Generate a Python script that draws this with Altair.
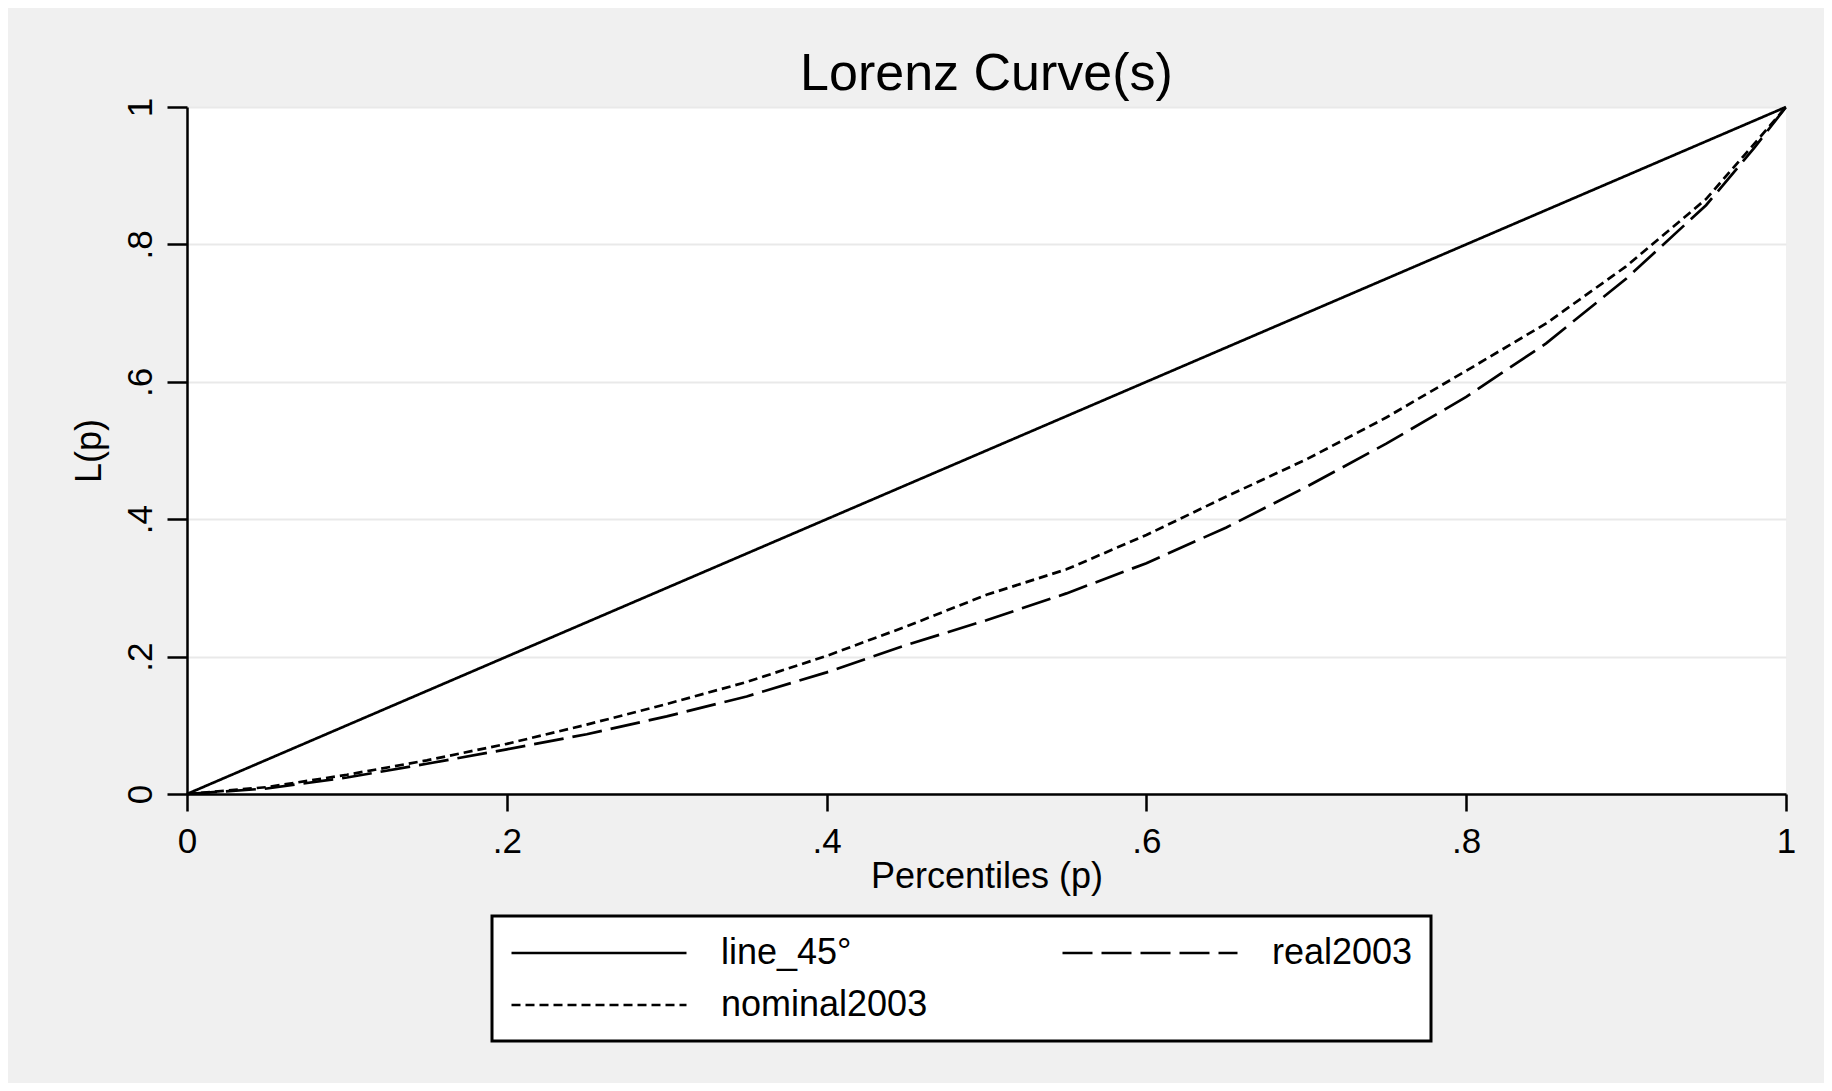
import altair as alt
import pandas as pd

# ---- data ----
p_vals = [0.0, 0.05, 0.10, 0.15, 0.20, 0.25, 0.30, 0.35, 0.40, 0.45, 0.50,
          0.55, 0.60, 0.65, 0.70, 0.75, 0.80, 0.85, 0.90, 0.95, 0.98, 1.0]
line_45 = [0.0, 0.05, 0.10, 0.15, 0.20, 0.25, 0.30, 0.35, 0.40, 0.45, 0.50,
           0.55, 0.60, 0.65, 0.70, 0.75, 0.80, 0.85, 0.90, 0.95, 0.98, 1.0]
nominal2003 = [0.0, 0.010, 0.028, 0.049, 0.073, 0.101, 0.131, 0.163, 0.201, 0.244, 0.290,
               0.327, 0.377, 0.433, 0.487, 0.548, 0.616, 0.685, 0.768, 0.866, 0.946, 1.0]
real2003 = [0.0, 0.008, 0.024, 0.044, 0.065, 0.087, 0.113, 0.142, 0.177, 0.217, 0.253,
            0.292, 0.336, 0.388, 0.447, 0.510, 0.578, 0.656, 0.750, 0.857, 0.940, 1.0]

series_names = ["line_45°", "real2003", "nominal2003"]
series_dash = [[1, 0], [30, 9], [9, 5]]

tick_values = [0, 0.2, 0.4, 0.6, 0.8, 1]
tick_labels = ["0", ".2", ".4", ".6", ".8", "1"]

title_text = "Lorenz Curve(s)"
x_title = "Percentiles (p)"
y_title = "L(p)"

rows = []
for name, vals in zip(series_names, [line_45, real2003, nominal2003]):
    for p, v in zip(p_vals, vals):
        rows.append({"series": name, "p": p, "L": v})
df = pd.DataFrame(rows)


def label_expr(values, labels):
    expr = "''"
    for v, l in reversed(list(zip(values, labels))):
        expr = f"abs(datum.value - {v}) < 1e-6 ? '{l}' : ({expr})"
    return expr


FONT = "Liberation Sans"
W, H = 1599, 687

chart = alt.Chart(df).mark_line(
    color="black", strokeWidth=2.7, strokeCap="butt", clip=False
).encode(
    x=alt.X("p:Q",
            scale=alt.Scale(domain=[0, 1], nice=False, zero=False),
            axis=alt.Axis(values=tick_values, labelExpr=label_expr(tick_values, tick_labels),
                          grid=False, tickSize=17, labelPadding=13, labelFlush=False,
                          title=x_title, titleX=W / 2, titleY=93,
                          titleBaseline="alphabetic", titleAlign="center")),
    y=alt.Y("L:Q",
            scale=alt.Scale(domain=[0, 1], nice=False, zero=False),
            axis=alt.Axis(values=tick_values, labelExpr=label_expr(tick_values, tick_labels),
                          grid=True, tickSize=20, labelPadding=9, labelFlush=False,
                          labelAngle=270, labelAlign="center", labelBaseline="bottom",
                          title=y_title, titleAngle=270, titleX=-87, titleY=H / 2,
                          titleBaseline="alphabetic", titleAlign="center")),
    strokeDash=alt.StrokeDash(
        "series:N",
        scale=alt.Scale(domain=series_names, range=series_dash),
        sort=series_names,
        legend=alt.Legend(
            title=None, orient="none", legendX=305, legendY=809,
            direction="horizontal", gridAlign="all",
            columns=2, columnPadding=129, rowPadding=15, padding=18,
            strokeColor="black", fillColor="white",
            symbolType="M-1,0H9", symbolSize=1225, symbolStrokeWidth=2.7,
            symbolStrokeColor="black", symbolOffset=0,
            labelFont=FONT, labelFontSize=36, labelColor="black",
            labelOffset=173, labelLimit=800,
        ),
    ),
).properties(
    width=W, height=H,
    title=alt.Title(title_text, font=FONT, fontSize=52, fontWeight="normal",
                    color="black", anchor="middle", frame="group",
                    baseline="alphabetic", offset=6, dy=51),
    padding={"left": 179, "top": 99, "right": 38, "bottom": 289},
    autosize=alt.AutoSizeParams(type="none"),
).configure(
    background="#f0f0f0", font=FONT,
).configure_view(
    fill="white", stroke=None,
).configure_axis(
    domainColor="black", domainWidth=2.5, tickColor="black", tickWidth=2.5,
    gridColor="#e9e9e9", gridWidth=2,
    labelFont=FONT, labelFontSize=35, labelColor="black",
    titleFont=FONT, titleFontSize=36, titleColor="black", titleFontWeight="normal",
).configure_legend(
    strokeWidth=3,
)

chart.save("out.html", embed_options={"renderer": "svg", "actions": False})
